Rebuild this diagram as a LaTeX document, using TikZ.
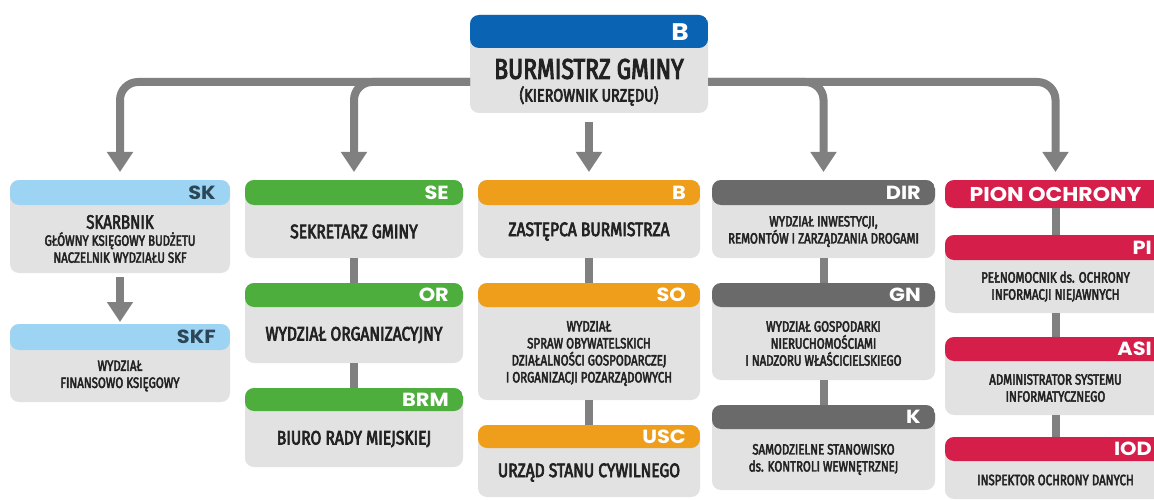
\documentclass[tikz,border=0pt]{standalone}
\usepackage{fontspec}
\setmainfont{Fira Sans}[FakeStretch=0.8,FakeBold=3.5]
\newfontfamily\smallfam{Fira Sans}[FakeStretch=0.77,FakeBold=3]
\newfontfamily\codefont{Poppins}[FakeStretch=1.1]
\usetikzlibrary{arrows.meta,calc}
\definecolor{bodygray}{HTML}{E2E2E2}
\definecolor{conngray}{HTML}{808080}
\definecolor{txtcol}{HTML}{222222}
\definecolor{hblue}{HTML}{0B63B3}
\definecolor{hlblue}{HTML}{9DD4F3}
\definecolor{hgreen}{HTML}{4DAE3E}
\definecolor{horange}{HTML}{EE9E1B}
\definecolor{hdgray}{HTML}{6A6A6A}
\definecolor{hred}{HTML}{D61E4B}
\definecolor{darkcode}{HTML}{2C4655}
\newcommand\bigf{\fontsize{19.5}{21}\selectfont}
\newcommand\smallf{\smallfam\fontsize{14.9}{17}\selectfont}
\tikzset{
  box/.style={rounded corners=9pt, fill=bodygray, inner sep=0pt, outer sep=0pt},
  codelbl/.style={font=\codefont\bfseries\fontsize{19}{19}\selectfont, text=white, inner sep=0pt},
  txt/.style={text=txtcol, align=center, inner sep=0pt},
  bigtxt/.style={txt, font=\bigf},
  smalltxt/.style={txt, font=\smallf},
  arr/.style={draw=conngray, line width=8pt, -{Triangle[width=25pt,length=20pt]}},
  bar/.style={draw=conngray, line width=8pt},
}
% name, left, top, right, bottom, header height, colour, code; then {style}{text}
\newcommand\orgbox[8]{%
  \pgfmathsetmacro\bw{#4-#2}\pgfmathsetmacro\bh{#5-#3}%
  \node[box, minimum width=\bw pt, minimum height=\bh pt, anchor=north west,
    path picture={\fill[#7] (path picture bounding box.north west) rectangle ([yshift={-(#6)*1pt}]path picture bounding box.north east);}]
    (#1) at (#2,#3) {};
  \node[codelbl, anchor=east] (#1-code) at ([xshift=-14pt,yshift={-0.5*(#6)*1pt}]#1.north east) {#8};
  \orgboxtext{#1}{#6}%
}
\newcommand\orgboxtext[4]{%
  \node[#3] (#1-text) at ([yshift={-0.5*(#2)*1pt}]#1.center) {#4};
}
\begin{document}
\begin{tikzpicture}[x=1pt,y=-1pt]
\clip (0,0) rectangle (1154,500);
\fill[white] (0,0) rectangle (1154,500);

% top box
\node[box, minimum width=238pt, minimum height=98pt, anchor=north west,
  path picture={\fill[hblue] (path picture bounding box.north west) rectangle ([yshift=-33pt]path picture bounding box.north east);}]
  (top) at (470,15) {};
\node[codelbl, font=\codefont\bfseries\fontsize{24}{24}\selectfont, anchor=east] (top-code) at ([xshift=-19pt,yshift=-17pt]top.north east) {B};
\node[txt, font=\fontsize{28.5}{30}\selectfont] (top-title) at (589,69) {BURMISTRZ GMINY};
\node[txt, font=\fontsize{18}{19}\selectfont] (top-sub) at (589,96) {(KIEROWNIK URZĘDU)};

% column 1
\orgbox{sk}{10}{180}{230}{273}{25}{hlblue}{\textcolor{darkcode}{SK}}{smalltxt}{{\bigf SKARBNIK}\\GŁÓWNY KSIĘGOWY BUDŻETU\\NACZELNIK WYDZIAŁU SKF}
\orgbox{skf}{10}{324}{230}{402}{26}{hlblue}{\textcolor{darkcode}{SKF}}{smalltxt}{WYDZIAŁ\\FINANSOWO KSIĘGOWY}

% column 2
\orgbox{se}{245}{180}{463}{258}{25}{hgreen}{SE}{bigtxt}{SEKRETARZ GMINY}
\orgbox{or}{245}{283}{463}{363}{24}{hgreen}{OR}{bigtxt}{WYDZIAŁ ORGANIZACYJNY}
\orgbox{brm}{245}{388}{463}{467}{23}{hgreen}{BRM}{bigtxt}{BIURO RADY MIEJSKIEJ}

% column 3
\orgbox{b}{478}{180}{700}{258}{25}{horange}{B}{bigtxt}{ZASTĘPCA BURMISTRZA}
\orgbox{so}{478}{283}{700}{400}{24}{horange}{SO}{smalltxt}{WYDZIAŁ\\SPRAW OBYWATELSKICH\\DZIAŁALNOŚCI GOSPODARCZEJ\\I ORGANIZACJI POZARZĄDOWYCH}
\orgbox{usc}{478}{425}{700}{497}{23}{horange}{USC}{bigtxt}{URZĄD STANU CYWILNEGO}

% column 4
\orgbox{dir}{712}{180}{935}{258}{25}{hdgray}{DIR}{smalltxt}{WYDZIAŁ INWESTYCJI,\\REMONTÓW I ZARZĄDZANIA DROGAMI}
\orgbox{gn}{712}{283}{935}{380}{24}{hdgray}{GN}{smalltxt}{WYDZIAŁ GOSPODARKI\\NIERUCHOMOŚCIAMI\\I NADZORU WŁAŚCICIELSKIEGO}
\orgbox{k}{712}{405}{935}{490}{24}{hdgray}{K}{smalltxt}{SAMODZIELNE STANOWISKO\\ds. KONTROLI WEWNĘTRZNEJ}

% column 5
\node[box, fill=hred, minimum width=221pt, minimum height=28pt, anchor=north west,
  font=\codefont\bfseries\fontsize{20}{20}\selectfont, text=white] (pion) at (945,180) {PION OCHRONY};
\orgbox{pi}{945}{235}{1166}{313}{25}{hred}{PI}{smalltxt}{PEŁNOMOCNIK ds. OCHRONY\\INFORMACJI NIEJAWNYCH}
\orgbox{asi}{945}{337}{1166}{415}{24}{hred}{ASI}{smalltxt}{ADMINISTRATOR SYSTEMU\\INFORMATYCZNEGO}
\orgbox{iod}{945}{437}{1166}{499}{24}{hred}{IOD}{smalltxt}{INSPEKTOR OCHRONY DANYCH}

% connectors from the top
\coordinate (lj) at (470,82);
\coordinate (rj) at (708,82);
\draw[arr, rounded corners=18pt, shorten >=8pt] (lj) -| (sk.north);
\draw[arr, rounded corners=18pt, shorten >=8pt] (lj) -| (se.north);
\draw[arr, shorten <=9pt, shorten >=8pt] (top.south) -- (b.north);
\draw[arr, rounded corners=18pt, shorten >=8pt] (rj) -| (dir.north);
\draw[arr, rounded corners=18pt, shorten >=8pt] (rj) -| (pion.north);

% column links
\draw[arr, shorten <=4pt, shorten >=2pt] (sk.south) -- (skf.north);
\draw[bar] (se.south) -- (or.north);
\draw[bar] (or.south) -- (brm.north);
\draw[bar] (b.south) -- (so.north);
\draw[bar] (so.south) -- (usc.north);
\draw[bar] (dir.south) -- (gn.north);
\draw[bar] (gn.south) -- (k.north);
\draw[bar] (pion.south) -- (pi.north);
\draw[bar] (pi.south) -- (asi.north);
\draw[bar] (asi.south) -- (iod.north);
\end{tikzpicture}
\end{document}
